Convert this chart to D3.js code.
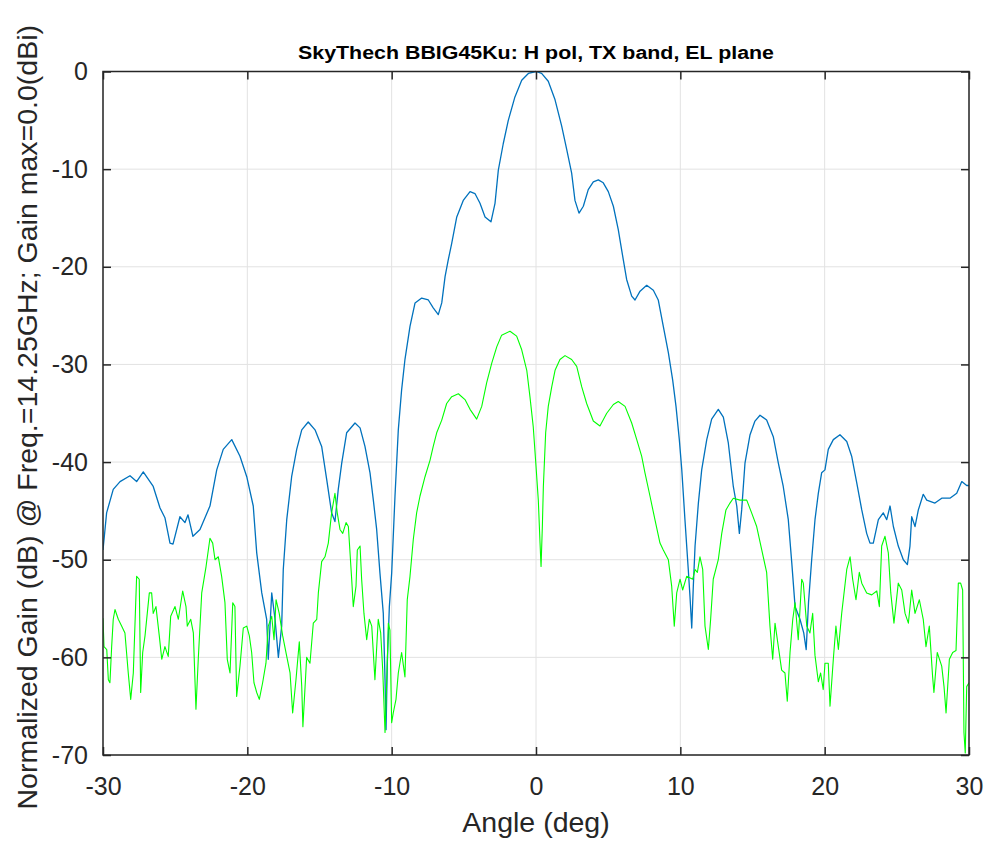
<!DOCTYPE html>
<html>
<head>
<meta charset="utf-8">
<script src="https://cdn.jsdelivr.net/npm/d3@7"></script>
<style>
  html, body { margin: 0; padding: 0; background: #fff; }
  svg { display: block; font-family: "Liberation Sans", Arial, Helvetica, sans-serif; }
</style>
</head>
<body>
<script>
// ---------------- DATA ----------------
const titleText = "SkyThech BBIG45Ku: H pol, TX band, EL plane";
const xLabelText = "Angle (deg)";
const yLabelText = "Normalized Gain (dB) @ Freq.=14.25GHz; Gain max=0.0(dBi)";
const xTicks = [-30, -20, -10, 0, 10, 20, 30];
const yTicks = [0, -10, -20, -30, -40, -50, -60, -70];

// Co-polar (blue) trace: [angle deg, gain dB]
const coPol = [
  [-30,-49],[-29.9,-47.5],[-29.75,-45.2],[-29.29,-42.8],[-28.82,-42.0],[-28.13,-41.4],[-27.67,-42.0],[-27.21,-41.0],[-26.52,-42.5],[-26.05,-44.7],
  [-25.71,-45.7],[-25.36,-48.3],[-25.15,-48.4],[-24.67,-45.6],[-24.32,-46.2],[-24.11,-45.4],[-23.77,-47.6],[-23.28,-46.9],[-22.59,-44.5],[-22.12,-40.8],
  [-21.67,-38.7],[-21.08,-37.7],[-20.51,-39.4],[-20.04,-41.5],[-19.59,-44.5],[-19.35,-49.3],[-19.0,-53.4],[-18.66,-56.1],[-18.55,-60.2],[-18.31,-53.4],
  [-18.08,-56.1],[-17.85,-60.0],[-17.62,-56.8],[-17.51,-51.0],[-17.27,-45.9],[-16.93,-41.5],[-16.58,-38.7],[-16.23,-36.7],[-15.78,-35.9],[-15.31,-36.7],
  [-14.85,-38.4],[-14.5,-41.8],[-14.16,-45.2],[-13.93,-46.1],[-13.7,-42.8],[-13.46,-40.1],[-13.12,-37.0],[-12.54,-36.0],[-12.19,-36.5],[-11.85,-38.4],
  [-11.5,-41.1],[-11.27,-43.9],[-11.04,-46.9],[-10.81,-51.4],[-10.58,-55.5],[-10.46,-62.3],[-10.39,-67.4],[-10.3,-60.5],[-10.16,-54.8],[-10.0,-51.4],
  [-9.77,-43.5],[-9.54,-36.7],[-9.31,-32.6],[-9.08,-29.5],[-8.73,-26.1],[-8.38,-23.7],[-7.92,-23.2],[-7.46,-23.4],[-7.12,-24.2],[-6.77,-24.9],
  [-6.53,-23.7],[-6.3,-21.0],[-6.08,-19.3],[-5.84,-17.6],[-5.49,-14.9],[-5.04,-13.2],[-4.57,-12.3],[-4.23,-12.5],[-3.88,-13.5],[-3.53,-14.9],
  [-3.12,-15.4],[-2.84,-13.5],[-2.61,-10.1],[-2.27,-7.4],[-1.92,-5.0],[-1.46,-2.6],[-0.99,-0.9],[-0.53,-0.2],[0,0],[0.39,-0.2],
  [0.85,-1.0],[1.32,-2.9],[1.78,-5.6],[2.13,-8.0],[2.47,-10.4],[2.7,-13.2],[2.98,-14.5],[3.28,-13.8],[3.62,-12.1],[3.97,-11.3],
  [4.32,-11.1],[4.66,-11.4],[5.01,-12.3],[5.36,-13.8],[5.7,-16.2],[6.05,-19.3],[6.28,-21.3],[6.63,-23.0],[6.86,-23.4],[7.21,-22.5],
  [7.67,-21.9],[8.13,-22.4],[8.47,-23.4],[8.82,-26.1],[9.17,-28.8],[9.47,-31.6],[9.7,-34.3],[9.93,-37.7],[10.1,-40.8],[10.32,-45.9],
  [10.55,-51.0],[10.67,-53.8],[10.79,-57.0],[10.9,-52.7],[11.02,-48.6],[11.25,-44.2],[11.48,-40.8],[11.83,-37.7],[12.17,-35.6],[12.63,-34.6],
  [12.98,-35.4],[13.32,-38.0],[13.67,-42.5],[13.91,-44.5],[14.09,-47.3],[14.25,-44.9],[14.48,-40.1],[14.83,-37.2],[15.17,-35.8],[15.52,-35.2],
  [15.98,-35.7],[16.44,-37.4],[16.79,-40.1],[17.13,-42.5],[17.48,-45.9],[17.72,-50.3],[17.95,-54.8],[18.29,-56.1],[18.55,-57.5],[18.72,-59.2],
  [18.88,-54.4],[19.1,-50.0],[19.33,-45.9],[19.56,-43.2],[19.79,-41.1],[20.02,-40.8],[20.25,-38.7],[20.6,-37.7],[21.06,-37.2],[21.53,-37.9],
  [21.87,-39.4],[22.22,-42.1],[22.57,-44.9],[22.91,-47.3],[23.14,-48.3],[23.37,-48.3],[23.72,-45.9],[24.06,-45.2],[24.3,-45.9],[24.53,-44.5],
  [24.76,-46.6],[25.1,-48.6],[25.45,-50.0],[25.73,-50.5],[25.91,-48.6],[26.03,-45.6],[26.26,-46.6],[26.49,-44.9],[26.83,-43.3],[27.07,-43.9],
  [27.64,-44.2],[28.11,-43.7],[28.68,-43.7],[29.15,-43.2],[29.5,-42.0],[29.84,-42.4],[30,-42.4]
];

// Cross-polar (green) trace: [angle deg, gain dB]
const crossPol = [
  [-30.00,-56.0],[-29.93,-58.9],[-29.74,-59.2],[-29.63,-62.3],[-29.52,-62.6],[-29.40,-58.9],[-29.29,-56.1],[-29.17,-55.1],[-28.94,-56.1],[-28.71,-56.8],
  [-28.48,-57.5],[-28.25,-61.6],[-28.08,-64.3],[-27.90,-61.6],[-27.67,-51.7],[-27.49,-52.0],[-27.39,-63.6],[-27.25,-59.5],[-27.09,-57.8],[-26.79,-53.4],
  [-26.63,-53.4],[-26.52,-55.5],[-26.33,-54.8],[-26.10,-57.8],[-25.93,-60.2],[-25.71,-58.9],[-25.48,-59.9],[-25.31,-55.8],[-25.01,-54.8],[-24.78,-56.1],
  [-24.48,-53.2],[-24.25,-54.8],[-24.16,-56.8],[-23.92,-56.1],[-23.74,-57.5],[-23.56,-65.3],[-23.40,-60.2],[-23.16,-53.4],[-22.86,-50.7],[-22.59,-47.8],
  [-22.40,-48.3],[-22.24,-50.0],[-22.01,-49.7],[-21.78,-51.7],[-21.55,-54.4],[-21.39,-60.2],[-21.20,-61.6],[-21.01,-54.4],[-20.86,-54.8],[-20.74,-64.0],
  [-20.51,-60.9],[-20.28,-57.0],[-20.04,-56.8],[-19.86,-57.8],[-19.70,-59.5],[-19.54,-62.6],[-19.35,-63.6],[-19.17,-64.3],[-18.94,-62.6],[-18.71,-60.6],
  [-18.55,-56.8],[-18.31,-55.8],[-18.15,-58.2],[-18.01,-54.1],[-17.79,-55.5],[-17.55,-57.8],[-17.27,-59.9],[-17.04,-61.6],[-16.86,-65.7],[-16.63,-62.3],
  [-16.40,-58.4],[-16.23,-63.0],[-16.15,-67.1],[-15.89,-60.0],[-15.66,-60.6],[-15.43,-56.5],[-15.19,-56.1],[-15.08,-53.4],[-14.85,-50.2],[-14.62,-49.7],
  [-14.39,-48.3],[-14.16,-45.2],[-13.93,-43.2],[-13.77,-45.2],[-13.58,-46.9],[-13.39,-47.3],[-13.16,-46.2],[-13.00,-46.6],[-12.77,-52.0],[-12.66,-54.8],
  [-12.47,-52.7],[-12.38,-49.0],[-12.19,-48.6],[-12.08,-52.0],[-11.92,-55.5],[-11.73,-58.2],[-11.55,-56.1],[-11.38,-56.8],[-11.16,-62.3],[-10.93,-56.1],
  [-10.76,-57.5],[-10.62,-61.3],[-10.46,-67.7],[-10.34,-62.3],[-10.23,-56.5],[-10.12,-57.2],[-10.00,-66.7],[-9.89,-65.7],[-9.70,-64.3],[-9.54,-61.6],
  [-9.31,-59.5],[-9.08,-62.0],[-8.92,-54.1],[-8.73,-51.7],[-8.50,-47.9],[-8.27,-45.2],[-8.04,-43.5],[-7.69,-41.5],[-7.34,-39.8],[-7.12,-38.4],
  [-6.88,-37.0],[-6.53,-35.7],[-6.19,-34.0],[-5.84,-33.3],[-5.38,-33.0],[-4.92,-33.6],[-4.57,-34.6],[-4.11,-35.6],[-3.76,-34.3],[-3.42,-31.9],
  [-3.07,-29.9],[-2.72,-28.2],[-2.38,-27.0],[-1.80,-26.6],[-1.34,-27.1],[-0.99,-28.5],[-0.64,-30.6],[-0.42,-33.3],[-0.19,-36.4],[0,-40.4],
  [0.16,-43.9],[0.28,-48.3],[0.35,-50.7],[0.44,-46.6],[0.51,-42.5],[0.67,-37.0],[0.85,-34.3],[1.09,-32.3],[1.32,-30.6],[1.66,-29.5],
  [2.01,-29.1],[2.47,-29.5],[2.82,-30.2],[3.17,-32.3],[3.51,-34.0],[3.97,-35.8],[4.43,-36.3],[4.90,-35.0],[5.36,-34.1],[5.70,-33.8],
  [6.17,-34.3],[6.63,-36.0],[6.98,-37.7],[7.32,-39.4],[7.55,-41.1],[7.90,-43.5],[8.24,-45.9],[8.59,-48.3],[8.82,-49.0],[9.17,-50.0],
  [9.40,-52.7],[9.58,-56.8],[9.75,-53.4],[9.98,-52.0],[10.16,-53.1],[10.44,-51.7],[10.86,-52.0],[11.02,-51.0],[11.18,-51.3],[11.36,-49.7],
  [11.55,-51.0],[11.71,-56.8],[11.94,-59.2],[12.10,-56.1],[12.28,-52.0],[12.63,-50.0],[12.87,-47.3],[13.16,-44.9],[13.44,-44.2],[13.67,-43.7],
  [14.13,-43.9],[14.60,-43.9],[14.94,-45.2],[15.29,-46.6],[15.64,-49.0],[15.98,-51.3],[16.21,-56.8],[16.40,-60.2],[16.56,-56.5],[16.79,-58.9],
  [17.02,-61.3],[17.25,-61.6],[17.41,-64.5],[17.60,-59.5],[17.79,-56.1],[17.95,-54.4],[18.17,-58.2],[18.41,-52.0],[18.52,-52.4],[18.76,-56.8],
  [18.98,-57.5],[19.17,-55.5],[19.33,-59.8],[19.56,-62.5],[19.72,-61.6],[19.90,-63.3],[20.02,-60.6],[20.25,-60.6],[20.37,-65.0],[20.60,-60.2],
  [20.78,-56.8],[20.95,-59.2],[21.18,-55.5],[21.53,-51.0],[21.76,-49.7],[21.94,-52.0],[22.17,-54.1],[22.40,-51.3],[22.57,-52.4],[22.91,-53.4],
  [23.26,-53.6],[23.61,-53.2],[23.79,-54.8],[23.95,-48.6],[24.18,-47.6],[24.41,-49.3],[24.58,-53.4],[24.80,-56.5],[25.10,-52.4],[25.34,-53.1],
  [25.57,-55.5],[25.80,-56.5],[26.03,-53.1],[26.26,-55.5],[26.56,-54.1],[26.83,-56.1],[27.02,-58.9],[27.25,-56.8],[27.48,-62.0],[27.57,-63.6],
  [27.80,-59.5],[28.11,-60.9],[28.27,-63.0],[28.41,-65.7],[28.64,-60.2],[28.87,-59.5],[29.10,-59.3],[29.26,-52.4],[29.42,-52.4],[29.56,-53.1],
  [29.65,-67.7],[29.74,-69.8],[29.84,-63.0],[30.00,-62.6]
];

// ---------------- CHART ----------------
const W = 989, H = 843;
const margin = { left: 103, right: 20, top: 71.5, bottom: 88 };
const axisColor = "#262626";
const fmt = d => String(d); // plain hyphen-minus like the reference

const svg = d3.select("body").append("svg").attr("width", W).attr("height", H);

const x = d3.scaleLinear().domain([-30, 30]).range([margin.left, W - margin.right]);
const y = d3.scaleLinear().domain([-70, 0]).range([H - margin.bottom, margin.top]);

const [x0, x1] = x.range();
const [y0, y1] = y.range(); // y0 bottom, y1 top

// grid
const grid = svg.append("g").attr("stroke", "#e2e2e2").attr("stroke-width", 1);
grid.selectAll(".gx").data(xTicks).join("line")
  .attr("x1", d => x(d)).attr("x2", d => x(d)).attr("y1", y1).attr("y2", y0);
grid.selectAll(".gy").data(yTicks).join("line")
  .attr("y1", d => y(d)).attr("y2", d => y(d)).attr("x1", x0).attr("x2", x1);

// clip
svg.append("clipPath").attr("id", "plotclip").append("rect")
  .attr("x", x0).attr("y", y1 - 2).attr("width", x1 - x0).attr("height", y0 - y1 + 4);

const line = d3.line().x(d => x(d[0])).y(d => y(d[1]));
const plot = svg.append("g").attr("clip-path", "url(#plotclip)");
plot.append("path").datum(coPol).attr("d", line)
  .attr("fill", "none").attr("stroke", "#0072BD").attr("stroke-width", 1.3).attr("stroke-linejoin", "round");
plot.append("path").datum(crossPol).attr("d", line)
  .attr("fill", "none").attr("stroke", "#00FF00").attr("stroke-width", 1.1).attr("stroke-linejoin", "round");

// axes
const tickLen = 8;
function styleAxis(g) {
  g.select(".domain").remove();
  g.selectAll(".tick line").attr("stroke", axisColor).attr("stroke-width", 1.5);
  g.selectAll(".tick text").attr("fill", axisColor).style("font-size", "25px")
    .style("font-family", "'Liberation Sans', Arial, sans-serif");
}
svg.append("g").attr("transform", `translate(0,${y0})`)
  .call(d3.axisBottom(x).tickValues(xTicks).tickFormat(fmt).tickSizeInner(-tickLen).tickSizeOuter(0).tickPadding(22))
  .call(styleAxis);
svg.append("g").attr("transform", `translate(0,${y1})`)
  .call(d3.axisTop(x).tickValues(xTicks).tickFormat("").tickSizeInner(-tickLen).tickSizeOuter(0))
  .call(styleAxis);
svg.append("g").attr("transform", `translate(${x0},0)`)
  .call(d3.axisLeft(y).tickValues(yTicks).tickFormat(fmt).tickSizeInner(-tickLen).tickSizeOuter(0).tickPadding(15))
  .call(styleAxis);
svg.append("g").attr("transform", `translate(${x1},0)`)
  .call(d3.axisRight(y).tickValues(yTicks).tickFormat("").tickSizeInner(-tickLen).tickSizeOuter(0))
  .call(styleAxis);

// box
svg.append("rect").attr("x", x0).attr("y", y1).attr("width", x1 - x0).attr("height", y0 - y1)
  .attr("fill", "none").attr("stroke", axisColor).attr("stroke-width", 1.5);

// labels
svg.append("text").attr("x", (x0 + x1) / 2).attr("y", 832)
  .attr("text-anchor", "middle").attr("fill", axisColor)
  .style("font-size", "28.5px").text(xLabelText);
svg.append("text").attr("transform", `translate(37,${(y0 + y1) / 2 + 4}) rotate(-90)`)
  .attr("text-anchor", "middle").attr("fill", axisColor)
  .style("font-size", "28.5px").text(yLabelText);
svg.append("text").attr("x", (x0 + x1) / 2).attr("y", 59)
  .attr("text-anchor", "middle").attr("fill", "#000")
  .style("font-size", "18px").style("font-weight", "bold")
  .attr("textLength", 476).attr("lengthAdjust", "spacingAndGlyphs")
  .text(titleText);
</script>
</body>
</html>
